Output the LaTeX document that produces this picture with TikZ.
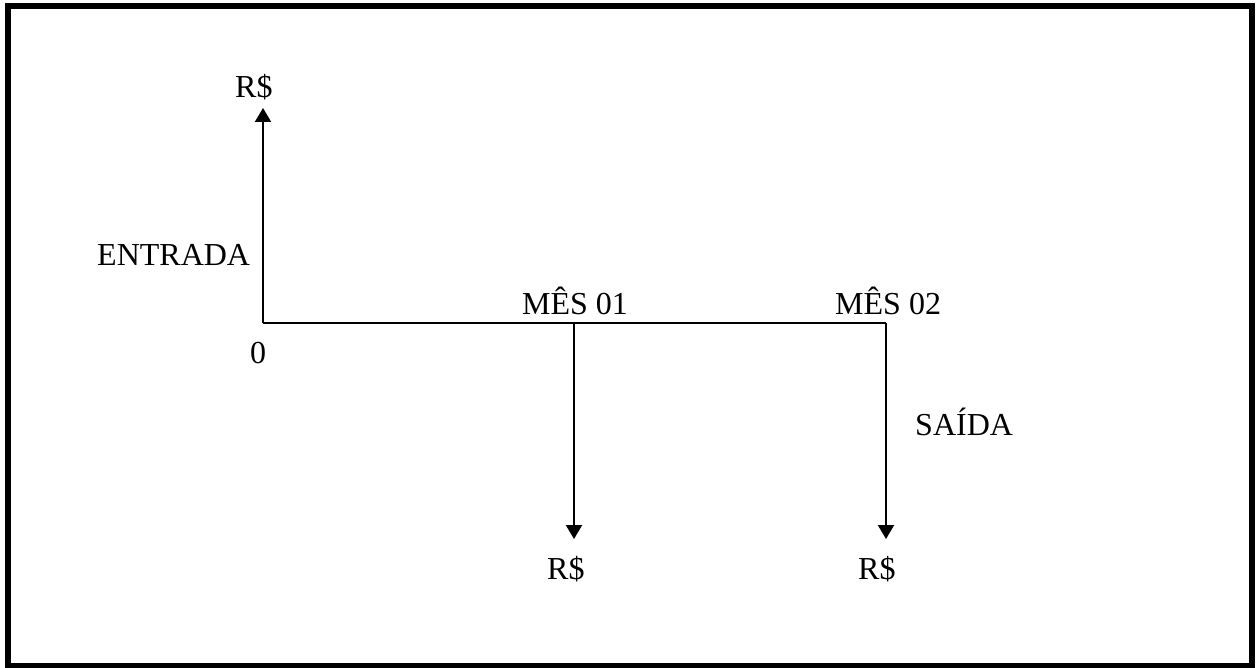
\documentclass[tikz,border=0pt]{standalone}
\usepackage{fontspec}
\setmainfont{Liberation Serif}
\usetikzlibrary{arrows.meta}
\begin{document}
\begin{tikzpicture}[x=1pt,y=-1pt,
  lbl/.style={anchor=base west,inner sep=0pt,font=\fontsize{32}{38}\selectfont},
  flow/.style={line width=2pt},
  arr/.style={flow,-{Triangle[width=16pt,length=14pt]}},
  frame/.style={line width=6pt}]
\useasboundingbox (0,0) rectangle (1256,668);
\draw[frame] (8,6) rectangle (1252,666);
% points
\coordinate (O) at (263,323);
\coordinate (M1) at (574,323);
\coordinate (M2) at (886,323);
\coordinate (T0) at (263,108);
\coordinate (B1) at (574,539);
\coordinate (B2) at (886,539);
% labels
\node[lbl] (r0) at (235,98) {R\$};
\node[lbl] (r1) at (547,579) {R\$};
\node[lbl] (r2) at (858,579) {R\$};
\node[lbl] (ent) at (97,266) {ENTRADA};
\node[lbl] (zero) at (250,363) {0};
\node[lbl] (m1) at (522,315) {MÊS 01};
\node[lbl] (m2) at (835,315) {MÊS 02};
\node[lbl] (sai) at (915,435) {SAÍDA};
% connectors
\draw[arr] (O) -- (T0);
\draw[flow] (O) -- (M2);
\draw[arr] (M1) -- (B1);
\draw[arr] (M2) -- (B2);
\end{tikzpicture}
\end{document}
